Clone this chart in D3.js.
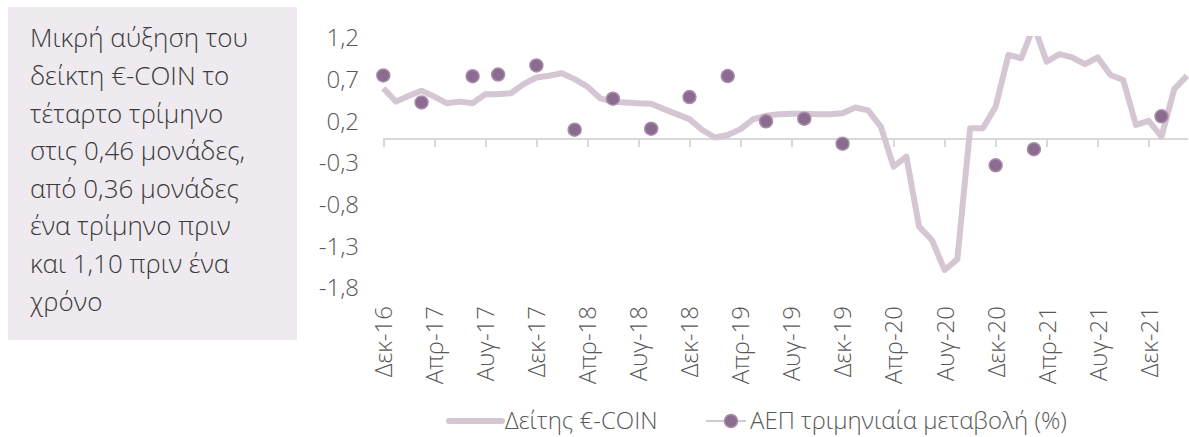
<!DOCTYPE html>
<html>
<meta charset="utf-8">
<style>
body { margin: 0; background: #fff; font-family: 'Open Sans'; font-weight: 300; }
.axis text { font-family: 'Open Sans'; font-weight: 300; font-size: 24px; fill: #595959; }
.axis path, .axis line { stroke: #d9d9d9; stroke-width: 2; shape-rendering: crispEdges; }
</style>
<body>
<script src="https://cdn.jsdelivr.net/npm/d3@7/dist/d3.min.js"></script>
<script>
var w = 1189, h = 437;

// month labels Dec-16 .. Mar-22
var monthNames = ["Ιαν","Φεβ","Μαρ","Απρ","Μαϊ","Ιουν","Ιουλ","Αυγ","Σεπ","Οκτ","Νοε","Δεκ"];
var months = ["Δεκ-16"];
for (var yr = 17; yr <= 22; yr++) {
  for (var mo = 0; mo < 12; mo++) {
    if (yr == 22 && mo > 2) break;
    months.push(monthNames[mo] + "-" + yr);
  }
}

// €-COIN index, monthly
var coin = [0.60, 0.44, 0.51, 0.57, 0.50, 0.42, 0.44, 0.42, 0.53, 0.53, 0.54, 0.65,
            0.73, 0.75, 0.78, 0.71, 0.62, 0.48, 0.44, 0.43, 0.42, 0.415, 0.35, 0.29,
            0.23, 0.10, 0.01, 0.04, 0.11, 0.23, 0.27, 0.29, 0.295, 0.295, 0.29, 0.29,
            0.30, 0.37, 0.335, 0.14, -0.34, -0.22, -1.06, -1.22, -1.58, -1.45, 0.12, 0.12,
            0.38, 1.00, 0.96, 1.35, 0.92, 1.01, 0.97, 0.89, 0.97, 0.76, 0.70, 0.16,
            0.21, 0.02, 0.59, 0.75];

// GDP quarterly change (%), only the points inside the axis range
var gdpDates = ["Δεκ-16","Μαρ-17","Ιουλ-17","Σεπ-17","Δεκ-17","Μαρ-18","Ιουν-18","Σεπ-18",
                "Δεκ-18","Μαρ-19","Ιουν-19","Σεπ-19","Δεκ-19","Δεκ-20","Μαρ-21","Ιαν-22"];
var gdp = [0.755, 0.43, 0.745, 0.765, 0.875, 0.104, 0.475, 0.116,
           0.495, 0.747, 0.204, 0.236, -0.064, -0.324, -0.13, 0.264];

var yTicks = [1.2, 0.7, 0.2, -0.3, -0.8, -1.3, -1.8];

var boxLines = ["Μικρή αύξηση του", "δείκτη €-COIN το", "τέταρτο τρίμηνο",
                "στις 0,46 μονάδες,", "από 0,36 μονάδες", "ένα τρίμηνο πριν",
                "και 1,10 πριν ένα", "χρόνο"];

var lineColor = "#d5c6d4", dotColor = "#8b6b8f", dotStroke = "#a98fac";

var x = d3.scalePoint().domain(months).range([383.3, 1187]);
var y = d3.scaleLinear().domain([-1.8, 1.2]).range([288.3, 38.3]);

var svg = d3.select("body").append("svg")
    .attr("width", w)
    .attr("height", h);

// text box
svg.append("rect")
    .attr("x", 8).attr("y", 7)
    .attr("width", 289).attr("height", 333)
    .attr("fill", "#eeeaef");

svg.append("text")
    .attr("font-family", "Open Sans")
    .attr("font-weight", 300)
    .attr("font-size", 26)
    .attr("fill", "#3b3b3b")
    .selectAll("tspan")
    .data(boxLines)
    .enter()
    .append("tspan")
    .attr("x", 30)
    .attr("y", function(d, i) { return 47.3 + i * 37.6; })
    .text(function(d) { return d; });

svg.append("defs").append("clipPath").attr("id", "plot")
  .append("rect").attr("x", 370).attr("y", 36).attr("width", 830).attr("height", 262);

// y labels
var yAxis = svg.append("g")
    .attr("class", "axis")
    .attr("transform", "translate(362,0)")
    .call(d3.axisLeft(y).tickValues(yTicks).tickSize(0)
      .tickFormat(function(d) { return d3.format(".1f")(d).replace(".", ",").replace("−", "-"); }));
yAxis.select(".domain").remove();

// x axis line at zero with ticks
var xTicks = months.filter(function(d, i) { return i % 4 == 0; });
var xAxis = svg.append("g")
    .attr("class", "axis")
    .attr("transform", "translate(0," + y(0) + ")")
    .call(d3.axisBottom(x).tickValues(xTicks).tickSize(9).tickSizeOuter(0).tickFormat(""));

// x labels at the bottom
var xLab = svg.append("g")
    .attr("class", "axis")
    .attr("transform", "translate(0,300)")
    .call(d3.axisBottom(x).tickValues(xTicks).tickSize(0));
xLab.select(".domain").remove();
xLab.selectAll("text")
    .attr("transform", "rotate(-90)")
    .attr("x", -6)
    .attr("y", 0)
    .attr("dy", "0.35em")
    .style("text-anchor", "end");

var plot = svg.append("g").attr("clip-path", "url(#plot)");

var line = d3.line()
    .x(function(d, i) { return x(months[i]); })
    .y(function(d) { return y(d); });

plot.append("path")
    .datum(coin)
    .attr("d", line)
    .attr("fill", "none")
    .attr("stroke", lineColor)
    .attr("stroke-width", 6)
    .attr("stroke-linejoin", "round");

plot.selectAll("circle")
    .data(gdp)
    .enter()
    .append("circle")
    .attr("cx", function(d, i) { return x(gdpDates[i]); })
    .attr("cy", function(d) { return y(d); })
    .attr("r", 6.5)
    .attr("fill", dotColor)
    .attr("stroke", dotStroke)
    .attr("stroke-width", 1.5);

// legend
var ly = 421;
var legend = svg.append("g").attr("font-family", "Open Sans").attr("font-weight", 300)
    .attr("font-size", 24).attr("fill", "#595959");
legend.append("line")
    .attr("x1", 449).attr("x2", 502).attr("y1", ly).attr("y2", ly)
    .attr("stroke", lineColor).attr("stroke-width", 6).attr("stroke-linecap", "round");
legend.append("text").attr("x", 505).attr("y", ly).attr("dy", "0.35em").text("Δείτης €-COIN");
legend.append("line")
    .attr("x1", 706).attr("x2", 746).attr("y1", ly).attr("y2", ly)
    .attr("stroke", lineColor).attr("stroke-width", 2);
legend.append("circle")
    .attr("cx", 731).attr("cy", ly).attr("r", 6.5)
    .attr("fill", dotColor).attr("stroke", dotStroke).attr("stroke-width", 1.5);
legend.append("text").attr("x", 750).attr("y", ly).attr("dy", "0.35em").text("ΑΕΠ τριμηνιαία μεταβολή (%)");
</script>
</body>
</html>
